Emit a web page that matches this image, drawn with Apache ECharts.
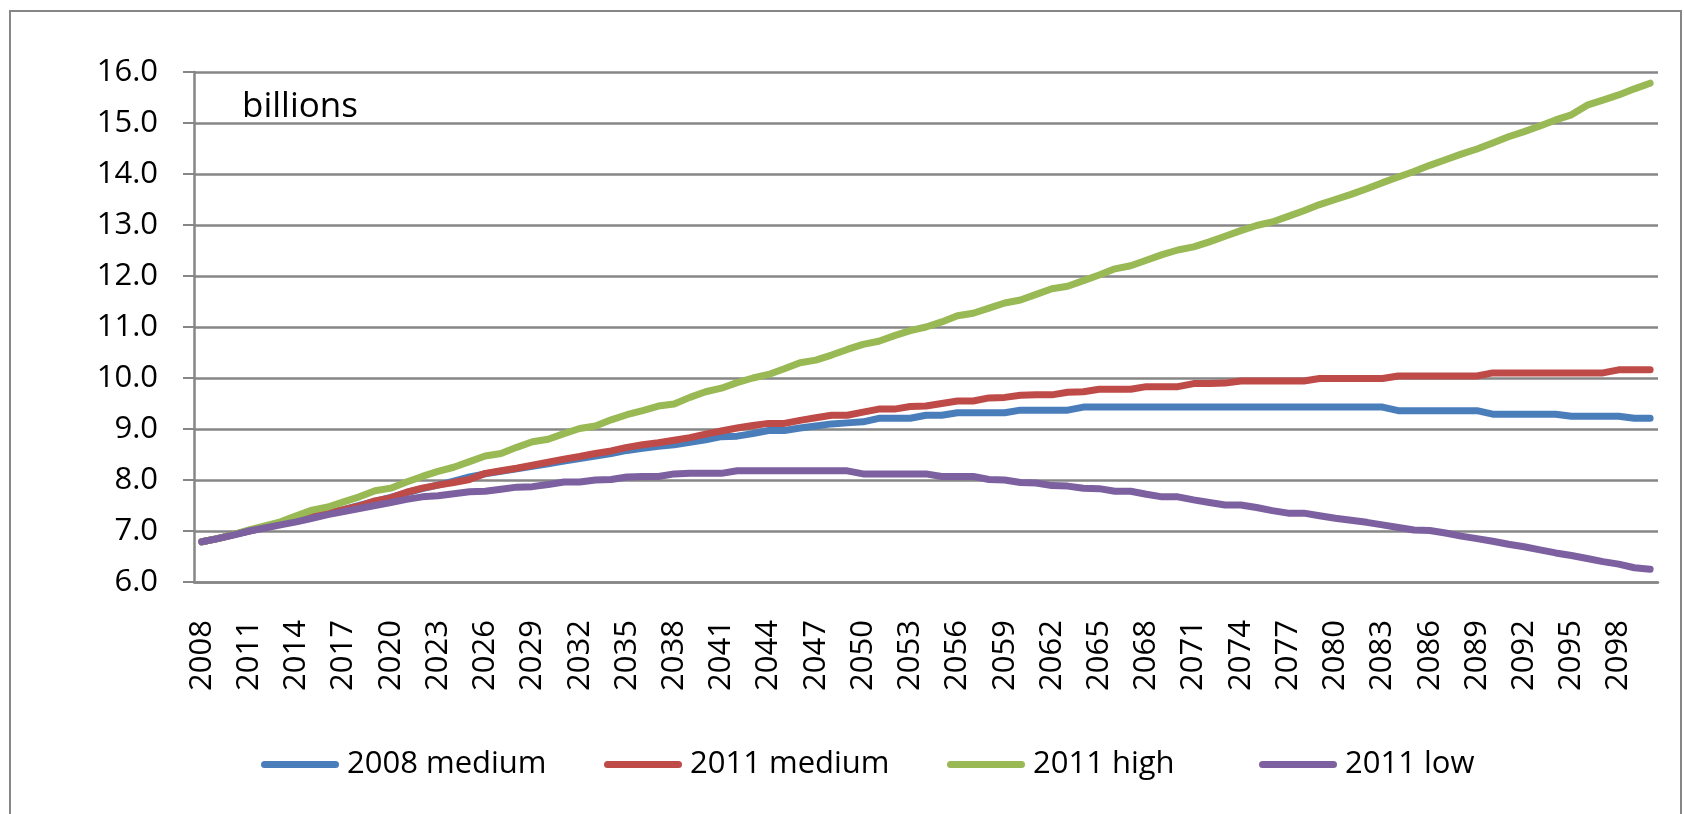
<!DOCTYPE html>
<html>
<head>
<meta charset="utf-8">
<title>World population projections</title>
<script src="https://cdn.jsdelivr.net/npm/echarts@6/dist/echarts.min.js"></script>
<style>
  html, body { margin: 0; padding: 0; background: #ffffff; }
  #chart { width: 1684px; height: 814px; }
</style>
</head>
<body>
<div id="chart"></div>
<script>
// Years 2008..2100
const years = [];
for (let y = 2008; y <= 2100; y++) years.push(String(y));

// Population in billions, one value per year
const medium2008 = [
  6.79, 6.85, 6.93, 7.00, 7.07, 7.14, 7.21, 7.28, 7.35, 7.42,
  7.50, 7.58, 7.66, 7.75, 7.83, 7.90, 7.98, 8.06, 8.12, 8.17,
  8.22, 8.27, 8.32, 8.37, 8.42, 8.47, 8.52, 8.58, 8.62, 8.66,
  8.69, 8.74, 8.79, 8.85, 8.86, 8.91, 8.97, 8.97, 9.02, 9.06,
  9.10, 9.12, 9.14, 9.21, 9.21, 9.21, 9.27, 9.27, 9.32, 9.32,
  9.32, 9.32, 9.37, 9.37, 9.37, 9.37, 9.43, 9.43, 9.43, 9.43,
  9.43, 9.43, 9.43, 9.43, 9.43, 9.43, 9.43, 9.43, 9.43, 9.43,
  9.43, 9.43, 9.43, 9.43, 9.43, 9.43, 9.36, 9.36, 9.36, 9.36,
  9.36, 9.36, 9.29, 9.29, 9.29, 9.29, 9.29, 9.25, 9.25, 9.25,
  9.25, 9.21, 9.21
];

const medium2011 = [
  6.79, 6.85, 6.93, 7.00, 7.07, 7.14, 7.21, 7.28, 7.35, 7.42,
  7.49, 7.59, 7.65, 7.76, 7.84, 7.90, 7.95, 8.01, 8.13, 8.18,
  8.23, 8.29, 8.35, 8.41, 8.46, 8.52, 8.57, 8.64, 8.69, 8.73,
  8.78, 8.83, 8.90, 8.96, 9.02, 9.07, 9.11, 9.11, 9.17, 9.22,
  9.27, 9.27, 9.33, 9.39, 9.39, 9.44, 9.45, 9.50, 9.55, 9.55,
  9.61, 9.62, 9.66, 9.67, 9.67, 9.72, 9.73, 9.78, 9.78, 9.78,
  9.83, 9.83, 9.83, 9.89, 9.89, 9.90, 9.94, 9.94, 9.94, 9.94,
  9.94, 9.99, 9.99, 9.99, 9.99, 9.99, 10.04, 10.04, 10.04, 10.04,
  10.04, 10.04, 10.10, 10.10, 10.10, 10.10, 10.10, 10.10, 10.10, 10.10,
  10.16, 10.16, 10.16
];

const high2011 = [
  6.79, 6.85, 6.93, 7.02, 7.10, 7.18, 7.30, 7.41, 7.47, 7.57,
  7.67, 7.79, 7.84, 7.96, 8.07, 8.17, 8.25, 8.36, 8.47, 8.52,
  8.64, 8.75, 8.80, 8.91, 9.01, 9.06, 9.18, 9.28, 9.36, 9.45,
  9.49, 9.62, 9.73, 9.80, 9.91, 10.00, 10.07, 10.18, 10.30, 10.35,
  10.45, 10.56, 10.66, 10.72, 10.83, 10.93, 11.00, 11.10, 11.22, 11.27,
  11.37, 11.47, 11.53, 11.64, 11.75, 11.80, 11.91, 12.02, 12.14, 12.20,
  12.31, 12.42, 12.51, 12.57, 12.67, 12.78, 12.89, 12.99, 13.06, 13.17,
  13.28, 13.40, 13.50, 13.60, 13.71, 13.83, 13.94, 14.05, 14.17, 14.28,
  14.39, 14.49, 14.61, 14.73, 14.83, 14.94, 15.06, 15.16, 15.35, 15.45,
  15.55, 15.67, 15.78
];

const low2011 = [
  6.79, 6.85, 6.92, 7.00, 7.06, 7.12, 7.18, 7.25, 7.32, 7.38,
  7.44, 7.50, 7.56, 7.62, 7.67, 7.69, 7.73, 7.77, 7.78, 7.82,
  7.86, 7.87, 7.91, 7.96, 7.96, 8.00, 8.01, 8.06, 8.07, 8.07,
  8.12, 8.13, 8.13, 8.13, 8.18, 8.18, 8.18, 8.18, 8.18, 8.18,
  8.18, 8.18, 8.12, 8.12, 8.12, 8.12, 8.12, 8.07, 8.07, 8.07,
  8.01, 8.00, 7.95, 7.94, 7.89, 7.88, 7.84, 7.83, 7.78, 7.78,
  7.72, 7.67, 7.67, 7.61, 7.56, 7.51, 7.51, 7.46, 7.40, 7.35,
  7.35, 7.30, 7.25, 7.21, 7.17, 7.12, 7.07, 7.02, 7.01, 6.96,
  6.90, 6.85, 6.80, 6.74, 6.69, 6.63, 6.57, 6.52, 6.46, 6.40,
  6.35, 6.28, 6.25
];

const seriesNames = ['2008 medium', '2011 medium', '2011 high', '2011 low'];
const seriesColors = ['#4A7EBB', '#BE4B48', '#98B954', '#7D60A0'];
const seriesData = [medium2008, medium2011, high2011, low2011];
const legendLeft = [261, 604, 947, 1259];

const FONT = 'Open Sans';
const GRAY = '#868686';
// Legend swatch: a short bar with rounded ends
const SWATCH = 'path://M3.5,0 L74.5,0 A3.5,3.5 0 0 1 74.5,7 L3.5,7 A3.5,3.5 0 0 1 3.5,0 Z';

const chart = echarts.init(document.getElementById('chart'), null, { renderer: 'canvas' });

const option = {
  animation: false,
  backgroundColor: '#ffffff',
  textStyle: { fontFamily: FONT },
  title: {
    text: 'billions',
    left: 242,
    top: 90,
    padding: 0,
    textStyle: { fontFamily: FONT, fontSize: 35, fontWeight: 'normal', color: '#000000' }
  },
  graphic: [{
    type: 'rect',
    silent: true,
    shape: { x: 10, y: 11, width: 1671, height: 900 },
    style: { fill: 'none', stroke: GRAY, lineWidth: 2 }
  }],
  legend: seriesNames.map((name, i) => ({
    data: [name],
    left: legendLeft[i],
    top: 749,
    padding: 0,
    icon: SWATCH,
    itemWidth: 78,
    itemHeight: 7,
    textStyle: { fontFamily: FONT, fontSize: 31, color: '#000000', padding: [0, 0, 0, 3] }
  })),
  grid: { left: 194, top: 72, right: 26, bottom: 232 },
  xAxis: {
    type: 'category',
    data: years,
    boundaryGap: true,
    axisLine: { lineStyle: { color: GRAY, width: 2.5 } },
    axisTick: { interval: 0, length: 11, lineStyle: { color: GRAY, width: 2 } },
    axisLabel: {
      interval: 2,
      rotate: 90,
      margin: 38,
      fontFamily: FONT,
      fontSize: 31,
      color: '#000000'
    },
    splitLine: { show: false }
  },
  yAxis: {
    type: 'value',
    min: 6,
    max: 16,
    interval: 1,
    axisLine: { show: true, lineStyle: { color: GRAY, width: 2.5 } },
    axisTick: { show: true, length: 11, lineStyle: { color: GRAY, width: 2 } },
    axisLabel: {
      margin: 36,
      padding: [6, 0, 0, 0],
      fontFamily: FONT,
      fontSize: 31,
      color: '#000000',
      formatter: v => v.toFixed(1)
    },
    splitLine: { lineStyle: { color: GRAY, width: 2.5 } }
  },
  series: seriesNames.map((name, i) => ({
    name: name,
    type: 'line',
    data: seriesData[i],
    showSymbol: false,
    symbol: 'none',
    smooth: false,
    color: seriesColors[i],
    lineStyle: { color: seriesColors[i], width: 7, cap: 'round', join: 'round' }
  }))
};

chart.setOption(option);
</script>
</body>
</html>
